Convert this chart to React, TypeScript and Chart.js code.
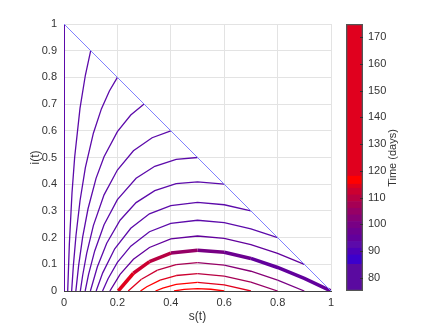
import React, { useEffect, useRef } from "react";
import { Chart, registerables } from "chart.js";
Chart.register(...registerables);

type P = [number, number];

// Diagonal s + i = 1
const DIAG: P[] = [[0, 1], [1, 0]];

// Trajectories starting on the diagonal (s0 = 0 ... 0.9)
const CURVE_00: P[] = [[0, 1], [0, 0]];
const CURVE_01: P[] = [[0.1, 0.9], [0.08, 0.808], [0.06, 0.685], [0.04, 0.502], [0.03, 0.368], [0.02, 0.175], [0.0139, 0]];
const CURVE_02: P[] = [[0.2, 0.8], [0.17, 0.749], [0.14, 0.682], [0.11, 0.591], [0.08, 0.462], [0.06, 0.338], [0.045, 0.209], [0.035, 0.094], [0.0287, 0]];
const CURVE_03: P[] = [[0.3, 0.7], [0.25, 0.659], [0.2, 0.597], [0.15, 0.503], [0.12, 0.422], [0.09, 0.308], [0.07, 0.203], [0.055, 0.097], [0.0444, 0]];
const CURVE_04: P[] = [[0.4, 0.6], [0.33, 0.574], [0.26, 0.525], [0.2, 0.453], [0.15, 0.36], [0.11, 0.245], [0.085, 0.141], [0.07, 0.059], [0.0612, 0]];
const CURVE_05: P[] = [[0.5, 0.5], [0.42, 0.493], [0.34, 0.467], [0.27, 0.422], [0.2, 0.342], [0.15, 0.248], [0.115, 0.15], [0.092, 0.062], [0.0793, 0]];
const CURVE_06: P[] = [[0.6, 0.4], [0.5, 0.409], [0.42, 0.402], [0.34, 0.376], [0.27, 0.331], [0.21, 0.265], [0.16, 0.179], [0.125, 0.091], [0.0989, 0]];
const CURVE_07: P[] = [[0.7, 0.3], [0.6, 0.323], [0.5, 0.332], [0.4, 0.32], [0.32, 0.289], [0.25, 0.235], [0.19, 0.158], [0.145, 0.068], [0.1204, 0]];
const CURVE_08: P[] = [[0.8, 0.2], [0.7, 0.233], [0.6, 0.256], [0.5, 0.265], [0.4, 0.253], [0.32, 0.222], [0.25, 0.168], [0.2, 0.107], [0.165, 0.046], [0.1444, 0]];
const CURVE_09: P[] = [[0.9, 0.1], [0.8, 0.141], [0.7, 0.174], [0.6, 0.197], [0.5, 0.206], [0.4, 0.195], [0.32, 0.163], [0.26, 0.119], [0.21, 0.0625], [0.1718, 0]];

// Thick trajectory starting near s = 1
const CURVE_THICK: P[] = [[1, 0], [0.9, 0.047], [0.8, 0.088], [0.7, 0.122], [0.6, 0.145], [0.5, 0.153], [0.4, 0.142], [0.32, 0.11], [0.26, 0.0665], [0.2032, 0]];
const THICK_TIME = [95, 95, 95, 96, 98, 103, 107, 110, 112, 116];

// Trajectories starting on the s axis
const LOW_09: P[] = [[0.9, 0], [0.8, 0.041], [0.7, 0.074], [0.6, 0.097], [0.5, 0.106], [0.42, 0.099], [0.35, 0.078], [0.29, 0.044], [0.2405, 0]];
const LOW_09_TIME = [98, 100, 102, 104, 106, 108, 111, 113, 115];
const LOW_08: P[] = [[0.8, 0], [0.7, 0.033], [0.6, 0.056], [0.5, 0.065], [0.42, 0.058], [0.36, 0.041], [0.31, 0.016], [0.2865, 0]];
const LOW_08_TIME = [104, 106, 109, 111, 113, 115, 116, 117];
const LOW_07: P[] = [[0.7, 0], [0.6, 0.023], [0.5, 0.032], [0.42, 0.0246], [0.37, 0.011], [0.3425, 0]];
const LOW_07_TIME = [113, 114, 115, 116, 116, 117];
const LOW_06: P[] = [[0.6, 0], [0.55, 0.0065], [0.5, 0.0088], [0.45, 0.0062], [0.412, 0]];
const LOW_06_TIME = [116, 116, 116, 116, 116];

const UPPER_TIME = 92;

// Colour bar bands (days)
const CB_LO = [75, 85, 88.5, 91, 93.5, 96, 98.5, 101, 103.5, 106, 108.5, 111, 113.5, 115, 118];
const CB_HI = [85, 88.5, 91, 93.5, 96, 98.5, 101, 103.5, 106, 108.5, 111, 113.5, 115, 118, 175];
const CB_COLORS = ["#5a0aa0", "#3c00cc", "#4e00b8", "#5c0aaa", "#62009c", "#6c0090", "#780084", "#860076", "#960066", "#a60054", "#b80042", "#cc0030", "#e0001c", "#ff0000", "#e0001e"];
const CB_MIN = 75;
const CB_MAX = 175;
const CB_TICKS = [80, 90, 100, 110, 120, 130, 140, 150, 160, 170];

const X_TICKS = [0, 0.2, 0.4, 0.6, 0.8, 1];

const FONT = "'Liberation Sans', Arial, sans-serif";
const TEXT = "#333333";

function cmap(v: number): string {
  for (let k = 0; k < CB_LO.length; k++) {
    if (v >= CB_LO[k] && v < CB_HI[k]) return CB_COLORS[k];
  }
  return v < CB_MIN ? CB_COLORS[0] : CB_COLORS[CB_COLORS.length - 1];
}

const toXY = (pts: P[]) => pts.map(([x, y]) => ({ x, y }));

function solid(pts: P[], color: string, width: number) {
  return { data: toXY(pts), borderColor: color, borderWidth: width, pointRadius: 0, fill: false, tension: 0 };
}
function graded(pts: P[], times: number[], width: number) {
  return {
    data: toXY(pts),
    borderColor: cmap(times[0]),
    borderWidth: width,
    pointRadius: 0,
    fill: false,
    tension: 0,
    segment: { borderColor: (c: any) => cmap((times[c.p0DataIndex] + times[c.p1DataIndex]) / 2) },
  };
}

export default function App() {
  const mainRef = useRef<HTMLCanvasElement>(null);
  const cbRef = useRef<HTMLCanvasElement>(null);

  useEffect(() => {
    const up = cmap(UPPER_TIME);
    const main = new Chart(mainRef.current!, {
      type: "line",
      data: {
        datasets: [
          solid(DIAG, "#8080ff", 1),
          solid(CURVE_00, up, 2),
          solid(CURVE_01, up, 1.3),
          solid(CURVE_02, up, 1.3),
          solid(CURVE_03, up, 1.3),
          solid(CURVE_04, up, 1.3),
          solid(CURVE_05, up, 1.3),
          solid(CURVE_06, up, 1.3),
          solid(CURVE_07, up, 1.3),
          solid(CURVE_08, up, 1.3),
          solid(CURVE_09, cmap(94), 1.3),
          graded(CURVE_THICK, THICK_TIME, 3.5),
          graded(LOW_09, LOW_09_TIME, 1.3),
          graded(LOW_08, LOW_08_TIME, 1.3),
          graded(LOW_07, LOW_07_TIME, 1.3),
          graded(LOW_06, LOW_06_TIME, 1.3),
        ] as any,
      },
      options: {
        animation: false,
        responsive: false,
        layout: { padding: { left: 0, right: 9, top: 24, bottom: 0 } },
        plugins: { legend: { display: false }, tooltip: { enabled: false } },
        scales: {
          x: {
            type: "linear",
            min: 0,
            max: 1,
            afterBuildTicks: (s: any) => { s.ticks = X_TICKS.map((v) => ({ value: v })); },
            afterFit: (s: any) => { s.height = 36; },
            ticks: { font: { family: FONT, size: 11 }, color: TEXT, padding: 5, callback: (v: any) => String(Math.round(Number(v) * 10) / 10) },
            grid: { color: "#e3e3e3", drawTicks: false },
            border: { color: "#404040" },
            title: { display: true, text: "s(t)", font: { family: FONT, size: 12 }, color: TEXT, padding: { top: 0, bottom: 3 } },
          },
          y: {
            type: "linear",
            min: 0,
            max: 1,
            ticks: { stepSize: 0.1, font: { family: FONT, size: 11 }, color: TEXT, padding: 7, callback: (v: any) => String(Math.round(Number(v) * 10) / 10) },
            afterFit: (s: any) => { s.width = 64; },
            grid: { color: "#e3e3e3", drawTicks: false },
            border: { color: "#404040" },
            title: { display: true, text: "i(t)", font: { family: FONT, size: 12 }, color: TEXT, padding: { top: 28, bottom: 0 } },
          },
        },
      },
    } as any);

    const cbPlugin = {
      id: "cbextras",
      afterDraw(chart: any) {
        const ctx = chart.ctx;
        const ys = chart.scales.y;
        const area = chart.chartArea;
        ctx.save();
        ctx.strokeStyle = "#333333";
        ctx.lineWidth = 1;
        for (const t of CB_TICKS) {
          const py = Math.round(ys.getPixelForValue(t)) + 0.5;
          ctx.beginPath();
          ctx.moveTo(area.right - 3, py);
          ctx.lineTo(area.right, py);
          ctx.stroke();
        }
        ctx.translate(58, 158);
        ctx.rotate(-Math.PI / 2);
        ctx.font = `11px ${FONT}`;
        ctx.fillStyle = TEXT;
        ctx.textAlign = "center";
        ctx.textBaseline = "middle";
        ctx.fillText("Time (days)", 0, 0);
        ctx.restore();
      },
    };

    const cb = new Chart(cbRef.current!, {
      type: "bar",
      data: {
        labels: ["c"],
        datasets: [
          { data: [[CB_MIN, CB_MAX]], backgroundColor: "rgba(0,0,0,0)", borderColor: "#555555", borderWidth: 1, borderSkipped: false, grouped: false, barPercentage: 1, categoryPercentage: 1 },
          ...CB_LO.map((lo, k) => ({
            data: [[lo, CB_HI[k]]],
            backgroundColor: CB_COLORS[k],
            borderWidth: 0,
            grouped: false,
            barPercentage: 1,
            categoryPercentage: 1,
          })),
        ],
      },
      options: {
        animation: false,
        responsive: false,
        layout: { padding: { left: 11, right: 0, top: 24, bottom: 36 } },
        plugins: { legend: { display: false }, tooltip: { enabled: false } },
        scales: {
          x: { display: false },
          y: {
            position: "right",
            min: CB_MIN,
            max: CB_MAX,
            afterBuildTicks: (s: any) => { s.ticks = CB_TICKS.map((v) => ({ value: v })); },
            afterFit: (s: any) => { s.width = 73; },
            ticks: { font: { family: FONT, size: 11 }, color: TEXT, padding: 5 },
            grid: { display: false, drawTicks: false },
            border: { display: false },
          },
        },
      },
      plugins: [cbPlugin],
    } as any);

    return () => {
      main.destroy();
      cb.destroy();
    };
  }, []);

  return (
    <div style={{ position: "fixed", left: 0, top: 0, width: 436, height: 327, background: "#ffffff" }}>
      <canvas ref={mainRef} width={340} height={327} style={{ position: "absolute", left: 0, top: 0 }} />
      <canvas ref={cbRef} width={101} height={327} style={{ position: "absolute", left: 335, top: 0 }} />
    </div>
  );
}
